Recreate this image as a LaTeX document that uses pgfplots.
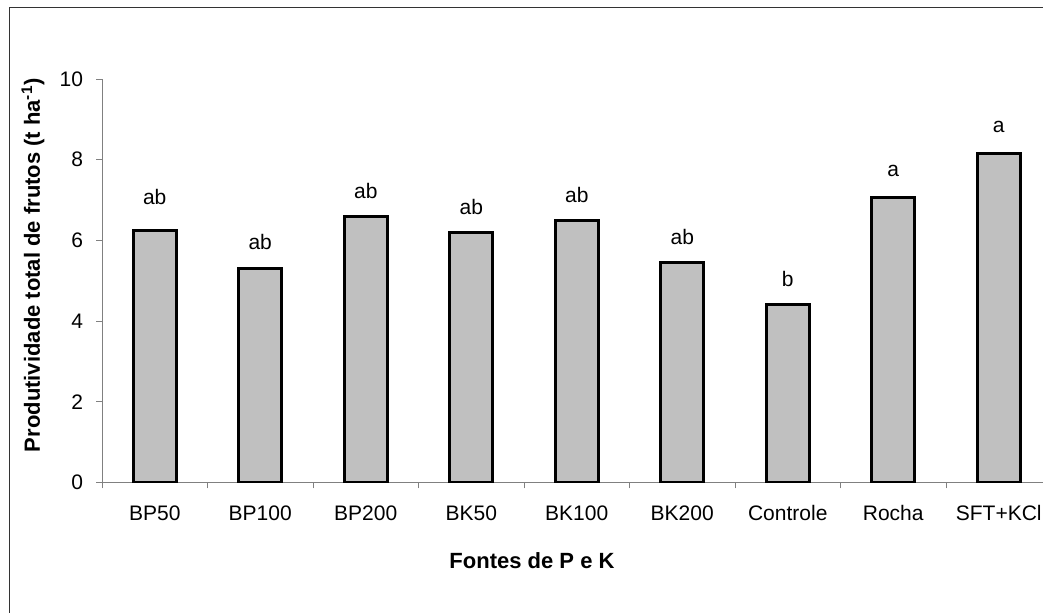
\documentclass[border=0pt]{standalone}
\usepackage{pgfplots}
\pgfplotsset{compat=1.18}
\usepackage{fontspec}
\setmainfont{Liberation Sans}
\definecolor{barfill}{RGB}{192,192,192}
\definecolor{axisgray}{RGB}{128,128,128}

\begin{document}
\begin{tikzpicture}
\useasboundingbox (0,0) rectangle (521.5pt,306pt);
% outer chart frame (clipped at right and bottom like the source)
\draw[black!80, line width=0.7pt] (4.8pt,-20pt) -- (4.8pt,302.3pt) -- (560pt,302.3pt);

\begin{axis}[
    at={(51pt,64.65pt)}, anchor=south west,
    scale only axis,
    width=474.75pt, height=201.85pt,
    xmin=-0.5, xmax=8.5,
    ymin=0, ymax=10,
    axis lines*=left,
    axis line style={axisgray, line width=0.5pt},
    ytick={0,2,...,10},
    xtick={0,...,8},
    xticklabels={BP50,BP100,BP200,BK50,BK100,BK200,Controle,Rocha,SFT+KCl},
    minor xtick={-0.5,0.5,...,8.5},
    major x tick style={draw=none},
    tick style={axisgray, line width=0.5pt},
    tick align=outside,
    major tick length=3pt,
    minor tick length=2.8pt,
    ticklabel style={font=\fontsize{10.5}{12}\selectfont},
    /pgf/number format/assume math mode=true,
    yticklabel style={xshift=-3pt},
    xticklabel style={yshift=-5pt},
    ybar,
    bar width=21.5pt,
    point meta=explicit symbolic,
    visualization depends on={\thisrow{off}\as\off},
    nodes near coords,
    every node near coord/.append style={anchor=center, yshift=\off pt,
        font=\fontsize{10.5}{12}\selectfont},
]
\addplot[fill=barfill, draw=black, line width=1.5pt] table[x=x, y=y, meta=lab] {
x y    lab off
0 6.24 ab  17
1 5.31 ab  13
2 6.59 ab  13
3 6.19 ab  13
4 6.49 ab  13
5 5.45 ab  13
6 4.41 b   13
7 7.07 a   13
8 8.16 a   13
};
\end{axis}

\node[rotate=90, font=\fontsize{11}{13}\selectfont\bfseries] at (16.5pt,173.5pt)
    {Produtividade total de frutos (t ha\textsuperscript{-1})};
\node[font=\fontsize{11}{13}\selectfont\bfseries] at (266pt,25.75pt) {Fontes de P e K};
\end{tikzpicture}
\end{document}
